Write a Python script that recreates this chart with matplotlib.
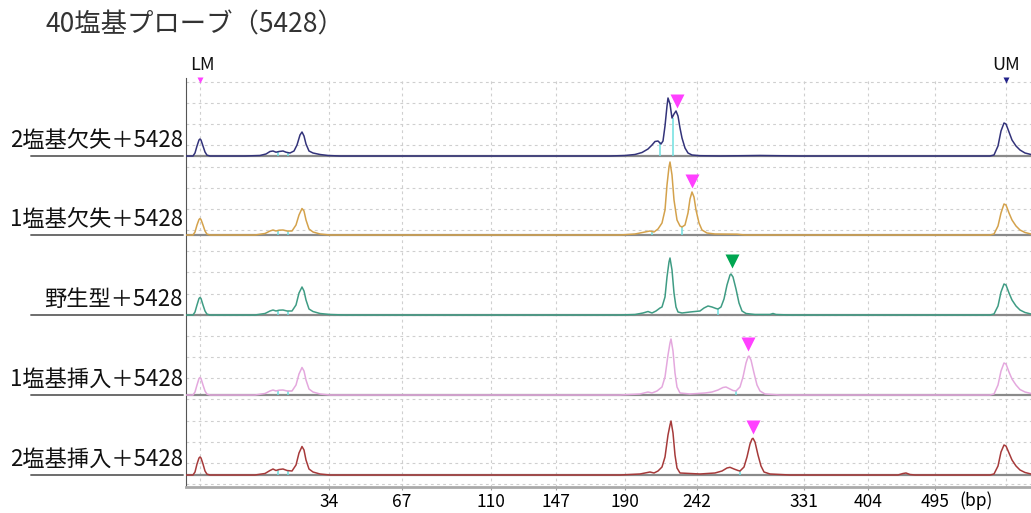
import matplotlib
matplotlib.use("Agg")
import matplotlib.pyplot as plt

plt.rcParams["font.family"] = ["Noto Sans CJK JP", "DejaVu Sans"]

# Lane names (top to bottom)
lanes = ["2塩基欠失＋5428", "1塩基欠失＋5428", "野生型＋5428", "1塩基挿入＋5428", "2塩基挿入＋5428"]
colors = ["#33337a", "#d4a24c", "#3f9c84", "#e4a8de", "#a63a3a"]

# Size ladder ticks (migration position -> bp)
tick_pos = [329, 402, 491, 556, 625, 697, 804, 868, 935]
tick_bp = ["34", "67", "110", "147", "190", "242", "331", "404", "495"]
lm_pos, um_pos = 200, 1006

# Traces: migration position and signal above baseline
lane1_x = [186, 193, 195, 197, 199, 200, 201, 203, 205, 207, 210,
           245, 260, 266, 270, 273, 276, 279, 283, 286, 290, 294, 297, 300, 302, 304, 306, 309, 313, 320, 328, 340,
           610, 625, 635, 642, 648, 652, 655, 658, 661, 663, 665, 667, 668, 670, 672, 674, 676, 678, 680, 682, 685,
           688, 692, 700, 720, 760, 800,
           990, 994, 998, 1001, 1004, 1006, 1009, 1012, 1016, 1020, 1025, 1031]
lane1_y = [0, 0, 3, 10, 16, 17, 16, 10, 4, 0.8, 0,
           0, 0.5, 2, 4.5, 5, 3.8, 4.5, 5, 3.8, 3, 5, 11, 21, 24, 20, 12, 5, 3, 1.5, 0.5, 0,
           0, 0.5, 1.5, 3.5, 7, 11, 14.5, 15, 12, 15, 30, 50, 58, 52, 38, 42, 45, 40, 28, 18, 8,
           3, 1, 0.3, 0, 0.5, 0,
           0, 1, 10, 25, 33, 32, 24, 16, 10, 6, 3, 1.5]

lane2_x = [186, 193, 195, 197, 199, 200, 201, 203, 205, 207, 210,
           255, 265, 270, 273, 276, 279, 283, 287, 292, 296, 299, 302, 304, 306, 309, 313, 320, 330,
           620, 635, 645, 650, 654, 658, 662, 665, 667, 669, 670, 672, 674, 677, 680, 682, 685, 688, 690, 692,
           694, 696, 699, 702, 707, 715, 737, 745,
           990, 994, 998, 1001, 1004, 1006, 1009, 1012, 1016, 1020, 1025, 1031]
lane2_y = [0, 0, 3, 10, 15.5, 16.5, 15.5, 10, 4, 0.8, 0,
           0, 1.5, 4, 5, 4, 4.8, 5, 4, 4, 10, 20, 26.5, 24, 15, 6, 3, 1, 0,
           0, 1, 3, 4, 3, 6, 12, 25, 50, 68, 73, 60, 35, 15, 9, 8, 10, 22, 36, 43,
           38, 25, 12, 5, 2, 1, 0.8, 0,
           0, 1, 9, 22, 31, 30, 22, 15, 9, 5, 2.5, 1]

lane3_x = [186, 193, 195, 197, 199, 200, 201, 203, 205, 207, 210,
           255, 265, 270, 273, 276, 279, 283, 287, 292, 296, 299, 302, 304, 306, 309, 313, 320, 330, 345,
           620, 635, 643, 648, 652, 656, 660, 662, 665, 667, 669, 670, 672, 674, 676, 678, 682, 690, 700, 704, 708,
           712, 716, 718, 721, 724, 727, 730, 731, 733, 736, 739, 742, 746, 755, 770, 773, 776, 790,
           990, 994, 998, 1001, 1004, 1006, 1009, 1012, 1016, 1020, 1025, 1031]
lane3_y = [0, 0, 3, 10, 16.5, 17.5, 16.5, 10, 4, 0.8, 0,
           0, 1.5, 4, 5, 4, 4.8, 5, 4, 4, 10, 22, 28, 24, 15, 6, 3.5, 1.5, 0.5, 0,
           0, 0.5, 2, 3.5, 2, 4, 7, 8, 18, 38, 53, 57, 45, 22, 8, 3, 2, 3, 4, 7, 9,
           8, 6.5, 6, 8, 16, 30, 40, 41, 38, 26, 12, 4, 1.5, 0.5, 0.5, 1.5, 0.5, 0,
           0, 1, 9, 23, 31, 30, 22, 15, 9, 5, 2.5, 1]

lane4_x = [186, 193, 195, 197, 199, 200, 201, 203, 205, 207, 210,
           255, 265, 270, 273, 276, 279, 283, 287, 292, 296, 299, 302, 304, 306, 309, 313, 320, 330,
           620, 640, 648, 652, 657, 662, 665, 668, 670, 671, 673, 675, 677, 680, 690, 705, 712, 718, 723, 726,
           729, 733, 736, 740, 743, 746, 748, 749, 751, 754, 757, 760, 765, 780,
           990, 994, 998, 1001, 1004, 1006, 1009, 1012, 1016, 1020, 1025, 1031]
lane4_y = [0, 0, 3, 10, 16.5, 17.5, 16.5, 10, 4, 0.8, 0,
           0, 1.5, 4, 5, 4, 4.8, 5, 4, 4, 10, 21, 27.5, 24, 15, 6, 3, 1, 0,
           0, 1, 3, 2, 4, 8, 18, 40, 52, 56, 44, 22, 8, 2, 1, 2, 3, 5, 7.5, 8,
           6.5, 4.5, 4, 8, 18, 32, 38, 39, 35, 22, 10, 4, 1, 0,
           0, 1, 10, 24, 32, 31, 23, 16, 10, 5.5, 3, 1.5]

lane5_x = [186, 193, 195, 197, 199, 200, 201, 203, 205, 207, 210,
           255, 265, 270, 273, 276, 279, 283, 287, 292, 296, 299, 302, 304, 306, 309, 313, 320, 330,
           620, 640, 650, 654, 658, 662, 665, 668, 670, 671, 673, 675, 677, 680, 700, 715, 722, 727, 730, 734,
           738, 740, 744, 747, 750, 752, 753, 755, 758, 761, 764, 770, 790,
           898, 903, 906, 910, 915,
           990, 994, 998, 1001, 1004, 1006, 1009, 1012, 1016, 1020, 1025, 1031]
lane5_y = [0, 0, 3, 11, 17, 18, 17, 11, 4, 0.8, 0,
           0, 1.5, 4.5, 6, 4.5, 5.5, 6, 4.5, 4, 10, 22, 28.5, 25, 15, 6, 3, 1, 0,
           0, 1, 3, 2, 4, 8, 18, 40, 50, 54, 42, 20, 7, 2, 1, 2, 4, 7, 7.7, 6,
           4.5, 4, 8, 18, 31, 36, 36.7, 33, 20, 9, 3, 1, 0,
           0, 1.5, 2, 0.5, 0,
           0, 1, 9, 23, 30, 29, 22, 15, 9, 5, 2.5, 1]

traces_x = [lane1_x, lane2_x, lane3_x, lane4_x, lane5_x]
traces_y = [lane1_y, lane2_y, lane3_y, lane4_y, lane5_y]

# Peak-call cut lines (cyan) per lane: position, height
cut_x = [[278, 288, 660, 673], [278, 288, 652, 682], [278, 288, 718], [278, 288, 736], [278, 288, 740]]
cut_y = [[4, 4, 14, 38], [4.5, 4.5, 3, 8], [4.5, 4.5, 6], [4.5, 4.5, 4], [5, 5, 4]]

# Target peak arrows
mark_x = [677, 692, 732, 748, 753]
mark_y = [55, 54, 54, 51, 48]
mark_c = ["#ff40ff", "#ff40ff", "#00a651", "#ff40ff", "#ff40ff"]

# Lane baselines (picture rows counted up from the bottom axis)
lane_base = [331, 252, 172, 92, 12]

fig = plt.figure(figsize=(10.31, 5.13), dpi=100)
ax = fig.add_axes([186 / 1031, 26 / 513, 845 / 1031, 409 / 513])
ax.set_xlim(186, 1031)
ax.set_ylim(0, 409)

# grid
for gx in [lm_pos] + tick_pos + [um_pos]:
    ax.axvline(gx, color="#cfcfcf", lw=0.8, ls=(0, (2.5, 3)), zorder=0)
for k in range(20):
    ax.axhline(3 + 21.16 * k, color="#cfcfcf", lw=0.8, ls=(0, (2.5, 3)), zorder=0)

for i in range(5):
    b = lane_base[i]
    ax.axhline(b, color="#8a8a8a", lw=1.6, zorder=1)
    ax.plot(traces_x[i], [b + v for v in traces_y[i]], color=colors[i], lw=1.1, zorder=3)
    ax.vlines(cut_x[i], b, [b + v for v in cut_y[i]], color="#6fe0e0", lw=1.1, zorder=2)
    ax.plot(mark_x[i], b + mark_y[i], marker="v", ms=10, color=mark_c[i], mec="none", zorder=4)
    # lane label with underline
    ax.text(-0.004, (b + 4) / 409, lanes[i], transform=ax.transAxes, ha="right", va="bottom",
            fontsize=16, color="#111111")
    ax.annotate("", xy=(0, b / 409), xycoords="axes fraction",
                xytext=(-158 / 845, b / 409), textcoords="axes fraction",
                arrowprops=dict(arrowstyle="-", color="#333333", lw=1.0))

# ladder markers on top
ax.plot(lm_pos, 407, marker="v", ms=5, color="#ff40ff", mec="none", clip_on=False)
ax.plot(um_pos, 407, marker="v", ms=5, color="#22228a", mec="none", clip_on=False)
ax.text(lm_pos + 2, 413, "LM", ha="center", va="bottom", fontsize=13, color="#111111")
ax.text(um_pos, 413, "UM", ha="center", va="bottom", fontsize=13, color="#111111")

ax.set_xticks(tick_pos)
ax.set_xticklabels(tick_bp, fontsize=12.5)
ax.tick_params(axis="x", length=2, color="#999999", pad=2)
ax.set_yticks([])
ax.text(976, -14, "(bp)", ha="center", va="center", fontsize=12.5)

ax.spines["top"].set_visible(False)
ax.spines["right"].set_visible(False)
ax.spines["left"].set_color("#555555")
ax.spines["bottom"].set_color("#aaaaaa")
ax.spines["bottom"].set_linewidth(2)

fig.text(45 / 1031, 1 - 25 / 513, "40塩基プローブ（5428）", ha="left", va="center",
         fontsize=19, color="#333333")

fig.savefig("out.png", dpi=100)
